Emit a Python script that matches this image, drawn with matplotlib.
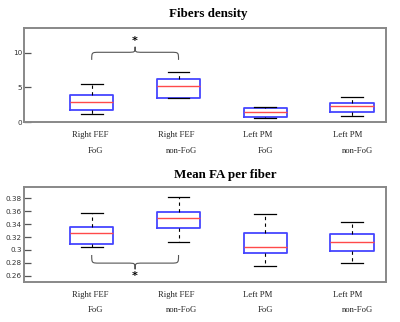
import matplotlib
matplotlib.use("Agg")
import matplotlib.pyplot as plt
from matplotlib.path import Path
from matplotlib.patches import PathPatch

# %% data
groups = ["Right FEF", "Right FEF", "Left PM", "Left PM"]
conds = ["FoG", "non-FoG", "FoG", "non-FoG"]

dens_low = [1.11, 3.43, 0.53, 0.92]
dens_q1 = [1.74, 3.53, 0.77, 1.50]
dens_med = [2.85, 5.17, 1.40, 2.27]
dens_q3 = [3.86, 6.28, 1.98, 2.71]
dens_high = [5.46, 7.29, 2.22, 3.57]

fa_low = [0.3042, 0.3120, 0.2749, 0.2796]
fa_q1 = [0.3099, 0.3340, 0.2948, 0.2990]
fa_med = [0.3256, 0.3502, 0.3047, 0.3125]
fa_q3 = [0.3360, 0.3591, 0.3267, 0.3251]
fa_high = [0.3575, 0.3816, 0.3565, 0.3439]

dens_ticks = [0, 5, 10]
dens_ticklabels = ["0", "5", "10"]
fa_ticks = [0.26, 0.28, 0.30, 0.32, 0.34, 0.36, 0.38]
fa_ticklabels = ["0.26", "0.28", "0.3", "0.32", "0.34", "0.36", "0.38"]

# brace: ends, bar, tip, star
dens_brace = (9.0, 10.1, 10.9, 11.75)
fa_brace = (0.2922, 0.2796, 0.2700, 0.2590)

# label offsets (pixels) of the two text rows
off1 = [-1, -2, -8, -4]
off2 = [4, 3, 0, 5]


def stats(lo, q1, med, q3, hi):
    out = []
    for i in range(len(lo)):
        out.append(dict(whislo=lo[i], q1=q1[i], med=med[i], q3=q3[i],
                        whishi=hi[i], fliers=[]))
    return out


def brace(ax, x0, x1, yend, ybar, ytip, ystar):
    xm = (x0 + x1) / 2.0
    r = 0.09
    verts = [(x0, yend), (x0, ybar), (x0, ybar), (x0 + r, ybar),
             (xm - r, ybar), (xm, ybar), (xm, ybar), (xm, ytip),
             (xm, ytip), (xm, ybar), (xm, ybar), (xm + r, ybar),
             (x1 - r, ybar), (x1, ybar), (x1, ybar), (x1, yend)]
    codes = [Path.MOVETO, Path.CURVE4, Path.CURVE4, Path.CURVE4,
             Path.LINETO, Path.CURVE4, Path.CURVE4, Path.CURVE4,
             Path.MOVETO, Path.CURVE4, Path.CURVE4, Path.CURVE4,
             Path.LINETO, Path.CURVE4, Path.CURVE4, Path.CURVE4]
    ax.add_patch(PathPatch(Path(verts, codes), fill=False,
                           edgecolor="#555555", lw=0.8))
    ax.text(xm, ystar, "*", ha="center", va="center", fontsize=8,
            fontweight="bold", color="black")


def panel(ax, st, ylim, ticks, ticklabels):
    pos = [1, 2, 3, 4]
    ax.bxp(st, positions=pos, widths=0.5, showfliers=False,
           boxprops=dict(color="#4545ff", lw=1.3),
           medianprops=dict(color="#ff4a4a", lw=1.0),
           whiskerprops=dict(color="black", lw=0.8, linestyle=(0, (3, 3))),
           capprops=dict(color="black", lw=0.9),
           capwidths=0.25)
    ax.set_xlim(0.22, 4.39)
    ax.set_ylim(*ylim)
    ax.set_yticks(ticks)
    ax.set_yticklabels(ticklabels)
    ax.set_xticks([])
    ax.tick_params(axis="y", direction="in", length=5, width=0.9,
                   colors="#555555", labelsize=5.2, pad=1.5)
    ax.tick_params(axis="y", labelcolor="#333333")
    for s in ax.spines.values():
        s.set_color("#888888")
        s.set_linewidth(1.4)
    for i in range(4):
        ax.annotate(groups[i], xy=(pos[i], 0), xycoords=("data", "axes fraction"),
                    xytext=(off1[i], -13), textcoords="offset pixels",
                    ha="center", va="center", fontsize=6.2,
                    family="Liberation Serif", color="#222222")
        ax.annotate(conds[i], xy=(pos[i], 0), xycoords=("data", "axes fraction"),
                    xytext=(off2[i], -28.5), textcoords="offset pixels",
                    ha="center", va="center", fontsize=6.2,
                    family="Liberation Serif", color="#222222")


fig = plt.figure(figsize=(4.0, 3.22), dpi=100)
ax1 = fig.add_axes([0.06, 0.620, 0.905, 0.292])
ax2 = fig.add_axes([0.06, 0.125, 0.905, 0.295])

panel(ax1, stats(dens_low, dens_q1, dens_med, dens_q3, dens_high),
      (-0.05, 13.57), dens_ticks, dens_ticklabels)
brace(ax1, 1.0, 2.0, *dens_brace)

panel(ax2, stats(fa_low, fa_q1, fa_med, fa_q3, fa_high),
      (0.2507, 0.398), fa_ticks, fa_ticklabels)
brace(ax2, 1.0, 2.0, *fa_brace)

fig.text(208.5 / 400, 1 - 14 / 322, "Fibers density", ha="center", va="center",
         fontsize=9.4, fontweight="bold", family="Liberation Serif")
fig.text(225 / 400, 1 - 175 / 322, "Mean FA per fiber", ha="center", va="center",
         fontsize=9.4, fontweight="bold", family="Liberation Serif")

fig.savefig("out.png", dpi=100)
